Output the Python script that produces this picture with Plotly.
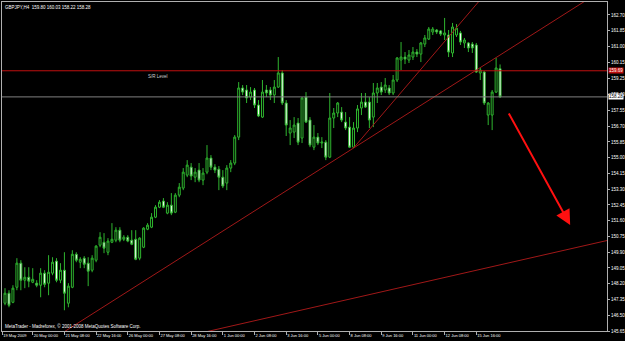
import plotly.graph_objects as go

# ---- data (GBPJPY H4) ----
opens = [147.15,147.69,147.20,148.01,149.31,148.39,148.55,148.28,148.23,148.12,148.77,148.23,148.77,149.42,148.39,148.93,147.15,148.01,149.79,149.36,
         149.58,149.31,148.93,149.47,150.28,150.44,149.90,150.44,150.55,151.09,150.60,150.71,150.55,150.60,149.58,150.17,151.14,151.25,151.79,152.33,
         152.66,152.01,152.44,152.06,152.98,153.36,154.06,154.49,153.95,154.33,153.79,154.22,154.98,154.49,154.38,153.95,153.63,154.44,154.71,156.11,
         158.76,158.65,158.27,158.65,157.84,157.19,158.65,158.65,158.38,158.81,159.57,157.95,156.33,156.38,156.87,156.06,158.27,157.03,155.57,156.11,
         155.79,155.84,155.03,157.14,157.41,157.46,156.92,156.65,155.57,156.60,157.68,158.00,158.00,157.19,158.49,158.81,158.65,158.76,158.49,159.19,
         160.27,160.43,160.27,160.43,160.70,160.59,161.13,161.40,161.78,161.89,161.84,161.62,161.62,160.65,161.62,161.73,161.19,161.19,161.13,161.08,
         159.57,159.62,157.30,157.30,158.54,159.80]
highs = [147.96,147.85,148.12,149.58,149.47,149.09,149.09,149.04,148.39,149.04,148.93,149.74,149.63,149.58,149.31,149.90,148.23,150.01,149.90,149.63,
         149.69,149.63,149.74,150.28,150.98,150.93,150.66,151.47,151.25,151.25,150.82,150.82,151.09,151.09,150.71,151.25,151.47,152.01,152.44,152.71,
         152.82,152.60,153.09,153.09,153.63,154.44,154.87,154.71,154.44,154.71,154.44,155.68,155.14,154.65,154.55,154.33,154.60,154.87,156.22,159.08,
         158.92,158.92,158.81,158.76,158.11,159.19,158.92,158.81,159.19,160.43,159.73,158.11,157.03,157.19,157.14,158.27,158.54,157.19,156.76,156.33,
         156.11,155.95,158.49,157.68,158.00,157.73,157.46,157.19,156.92,157.84,158.49,158.49,158.27,159.03,159.03,159.08,159.30,158.92,159.46,160.43,
         161.24,160.70,160.81,160.97,160.86,161.24,161.62,162.05,162.05,161.94,161.89,162.54,161.89,162.27,162.21,161.84,161.46,161.24,161.24,161.19,
         159.84,159.68,158.00,158.65,160.38,160.03]
lows = [147.04,146.93,147.15,147.85,147.85,147.96,148.01,148.23,148.01,147.47,148.01,147.58,148.66,148.28,148.23,146.77,146.93,147.96,149.36,149.04,
        149.04,148.07,148.82,149.36,150.17,149.85,149.74,150.39,150.44,150.44,150.50,150.44,150.28,149.47,149.47,150.12,151.09,151.20,151.74,152.28,
        152.28,151.95,151.90,152.01,152.87,153.25,153.95,153.79,153.68,153.68,153.52,154.11,154.33,154.17,153.25,153.36,153.25,154.22,154.60,155.95,
        158.38,157.95,158.11,157.68,157.19,157.14,158.27,158.11,157.95,158.76,157.84,156.17,155.68,156.06,155.68,155.79,156.87,155.57,155.41,155.68,
        155.52,154.87,154.98,156.60,157.19,156.92,156.49,155.52,155.52,156.38,157.30,157.68,156.60,156.65,157.95,158.38,158.49,158.38,158.38,159.08,
        159.73,160.05,160.11,160.27,160.43,160.16,160.97,161.35,161.62,161.67,161.57,161.35,160.43,160.43,161.51,161.08,160.92,160.70,160.65,159.57,
        159.19,157.84,156.76,156.49,158.49,158.22]
closes = [147.69,147.04,147.96,149.31,148.39,148.55,148.34,148.44,148.12,148.77,148.17,148.82,149.36,148.39,148.93,147.69,148.07,149.79,149.47,149.52,
          149.25,148.88,149.58,150.23,150.71,150.12,150.50,150.60,151.09,150.55,150.71,150.50,150.33,149.52,150.66,151.20,151.36,151.79,152.33,152.60,
          152.33,152.44,152.01,152.98,153.41,154.22,154.60,154.01,154.22,153.79,154.17,154.98,154.49,154.33,153.95,153.47,154.44,154.71,156.11,158.76,
          158.54,158.22,158.54,157.84,157.25,158.54,158.49,158.38,158.81,159.57,157.95,156.76,156.60,156.76,155.84,158.22,156.92,155.68,156.11,155.79,
          155.84,155.03,157.14,157.41,157.95,157.03,156.60,155.57,156.60,157.63,158.00,157.73,157.03,158.49,158.76,158.54,158.92,158.49,159.19,160.38,
          160.43,160.32,160.54,160.70,160.59,161.19,161.46,161.94,161.94,161.78,161.67,161.73,160.70,162.05,161.99,161.24,161.35,160.92,160.92,159.62,
          159.73,157.95,157.95,158.54,159.84,158.28]
bars = list(range(len(opens)))

price_ticks = [162.70,161.85,161.00,160.15,159.25,158.40,157.55,156.70,155.85,155.00,154.15,
               153.30,152.45,151.60,150.75,149.90,149.05,148.20,147.35,146.50,145.65]
time_tick_bars = [-0.7, 7, 15, 23, 31, 39, 47, 55, 63, 71, 79, 87, 95, 103, 111, 119]
time_tick_labels = ["19 May 2009", "20 May 00:00", "21 May 08:00", "22 May 16:00", "26 May 00:00",
                    "27 May 08:00", "28 May 16:00", "1 Jun 00:00", "2 Jun 08:00", "3 Jun 16:00",
                    "5 Jun 00:00", "8 Jun 08:00", "9 Jun 16:00", "11 Jun 00:00", "12 Jun 08:00",
                    "15 Jun 16:00"]

sr_level = 159.69
bid = 158.28
# trend lines: (bar, price) anchors
trend1_bars, trend1_prices = [14, 148], [145.48, 163.66]
trend2_bars, trend2_prices = [88, 122], [155.52, 164.02]
trend3_bars, trend3_prices = [50, 153], [145.57, 150.58]
arrow_from = (127.0, 157.47)
arrow_to = (142.7, 151.37)

GREEN = "#2fb52f"
TL = "#a01818"
FONT = "Liberation Sans"

fig = go.Figure()
for bx, py in [(trend1_bars, trend1_prices), (trend2_bars, trend2_prices), (trend3_bars, trend3_prices)]:
    fig.add_trace(go.Scatter(x=bx, y=py, mode="lines", line=dict(color=TL, width=1),
                             hoverinfo="skip", showlegend=False))

fig.add_trace(go.Candlestick(
    x=bars, open=opens, high=highs, low=lows, close=closes,
    increasing=dict(line=dict(color=GREEN, width=1), fillcolor="#000000"),
    decreasing=dict(line=dict(color=GREEN, width=1), fillcolor="#ffffff"),
    whiskerwidth=0, showlegend=False))

fig.add_hline(y=sr_level, line=dict(color="#c01010", width=1))
fig.add_hline(y=bid, line=dict(color="#808080", width=1))

fig.add_annotation(x=arrow_to[0], y=arrow_to[1], ax=arrow_from[0], ay=arrow_from[1],
                   xref="x", yref="y", axref="x", ayref="y", showarrow=True, text="",
                   arrowhead=2, arrowsize=1.5, arrowwidth=2, arrowcolor="#ff1010")

fig.add_annotation(x=38.6, y=sr_level, xref="x", yref="y", text="S/R Level", showarrow=False,
                   yanchor="top", yshift=-1, font=dict(family=FONT, size=4.5, color="#d0d0d0"))
fig.add_annotation(x=0, y=1, xref="paper", yref="paper", xanchor="left", yanchor="top",
                   xshift=1, yshift=-1, showarrow=False,
                   text="GBPJPY,H4  159.80 160.03 158.22 158.28",
                   font=dict(family=FONT, size=4.5, color="#ffffff"))
fig.add_annotation(x=0, y=0, xref="paper", yref="paper", xanchor="left", yanchor="bottom",
                   xshift=1, yshift=0, showarrow=False,
                   text="MetaTrader - Madreforex, © 2001-2008 MetaQuotes Software Corp.",
                   font=dict(family=FONT, size=4.5, color="#ffffff"))
fig.add_annotation(x=1, y=sr_level, xref="paper", yref="y", xanchor="left", xshift=1,
                   showarrow=False, text=f"{sr_level:.2f}", bgcolor="#c01010", borderpad=0,
                   font=dict(family=FONT, size=4.5, color="#ffffff"))
fig.add_annotation(x=1, y=bid, xref="paper", yref="y", xanchor="left", xshift=1,
                   showarrow=False, text=f"{bid:.2f}", bgcolor="#ffffff", borderpad=0,
                   font=dict(family=FONT, size=4.5, color="#000000"))

fig.update_layout(
    width=625, height=341,
    margin=dict(l=2, r=18, t=2, b=10, autoexpand=False),
    paper_bgcolor="#000000", plot_bgcolor="#000000",
    showlegend=False, boxgap=0.3,
    font=dict(family=FONT, size=4.5, color="#ffffff"),
    xaxis=dict(range=[-0.76, 152.0], rangeslider=dict(visible=False), showgrid=False,
               zeroline=False, showline=True, mirror=True, linecolor="#b0b0b0", linewidth=1,
               tickmode="array", tickvals=time_tick_bars, ticktext=time_tick_labels,
               ticks="outside", ticklen=3, tickcolor="#b0b0b0", tickwidth=1, tickangle=0,
               ticklabelposition="outside right", automargin=False,
               tickfont=dict(family=FONT, size=4, color="#ffffff")),
    yaxis=dict(range=[145.65, 163.40], side="right", showgrid=False, zeroline=False,
               showline=True, mirror=True, linecolor="#b0b0b0", linewidth=1,
               tickmode="array", tickvals=price_ticks, automargin=False,
               ticktext=[f"{v:.2f}" for v in price_ticks],
               ticks="outside", ticklen=2, tickcolor="#b0b0b0", tickwidth=1,
               tickfont=dict(family=FONT, size=4.5, color="#ffffff")),
)

fig.write_html("out.html")
